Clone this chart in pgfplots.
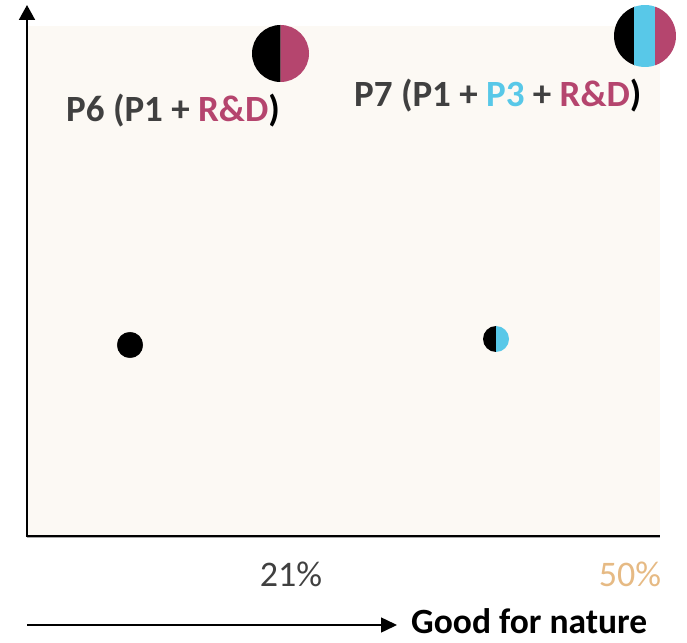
\documentclass[border=0pt]{standalone}
\usepackage{fontspec}
\setmainfont{Carlito}
\usepackage{pgfplots}
\pgfplotsset{compat=1.18}
\usetikzlibrary{arrows.meta}
\definecolor{bgbeige}{RGB}{252,249,244}
\definecolor{mag}{RGB}{181,69,110}
\definecolor{cyn}{RGB}{88,200,232}
\definecolor{dgray}{RGB}{64,64,64}
\definecolor{tan}{RGB}{230,186,132}

\pgfdeclareplotmark{halfbc}{%
  \pgfpathmoveto{\pgfqpoint{0pt}{\pgfplotmarksize}}%
  \pgfpatharc{90}{270}{\pgfplotmarksize}%
  \pgfpathclose
  \pgfsetfillcolor{black}\pgfusepath{fill}%
  \pgfpathmoveto{\pgfqpoint{0pt}{-\pgfplotmarksize}}%
  \pgfpatharc{-90}{90}{\pgfplotmarksize}%
  \pgfpathclose
  \pgfsetfillcolor{cyn}\pgfusepath{fill}%
}
\pgfdeclareplotmark{halfbm}{%
  \pgfpathmoveto{\pgfqpoint{0pt}{\pgfplotmarksize}}%
  \pgfpatharc{90}{270}{\pgfplotmarksize}%
  \pgfpathclose
  \pgfsetfillcolor{black}\pgfusepath{fill}%
  \pgfpathmoveto{\pgfqpoint{0pt}{-\pgfplotmarksize}}%
  \pgfpatharc{-90}{90}{\pgfplotmarksize}%
  \pgfpathclose
  \pgfsetfillcolor{mag}\pgfusepath{fill}%
}
\pgfdeclareplotmark{thirds}{%
  \pgfpathcircle{\pgfpointorigin}{\pgfplotmarksize}%
  \pgfusepath{clip}%
  \pgfpathrectanglecorners{\pgfqpoint{-\pgfplotmarksize}{-\pgfplotmarksize}}{\pgfqpoint{-0.333\pgfplotmarksize}{\pgfplotmarksize}}%
  \pgfsetfillcolor{black}\pgfusepath{fill}%
  \pgfpathrectanglecorners{\pgfqpoint{-0.34\pgfplotmarksize}{-\pgfplotmarksize}}{\pgfqpoint{0.333\pgfplotmarksize}{\pgfplotmarksize}}%
  \pgfsetfillcolor{cyn}\pgfusepath{fill}%
  \pgfpathrectanglecorners{\pgfqpoint{0.333\pgfplotmarksize}{-\pgfplotmarksize}}{\pgfqpoint{\pgfplotmarksize}{\pgfplotmarksize}}%
  \pgfsetfillcolor{mag}\pgfusepath{fill}%
}

\begin{document}
\begin{tikzpicture}
\begin{axis}[
  scale only axis,
  width=633pt, height=510pt,
  xmin=27, xmax=660, ymin=106, ymax=616,
  axis line style={draw=none},
  axis background/.style={fill=bgbeige},
  clip=false,
  ytick=\empty,
  xtick={291,630},
  xticklabels={21\%, \textcolor{tan}{50\%}},
  major tick length=0pt,
  xticklabel style={font=\fontsize{36}{40}\selectfont, text=dgray, yshift=-22pt},
]
\coordinate (bl) at (axis cs:0,0);
\coordinate (tr) at (axis cs:687,642);
% axes
\draw[line width=2pt,-{Triangle[width=16pt,length=15pt]}] (axis cs:27,105) -- (axis cs:27,637);
\draw[gray!70,line width=1pt] (axis cs:27,104.5) -- (axis cs:660,104.5);
\draw[line width=1.3pt] (axis cs:26,106) -- (axis cs:660,106);
% bottom arrow
\draw[line width=1.5pt,-{Triangle[width=15pt,length=16pt]}] (axis cs:27,17) -- (axis cs:397,17);
\node[anchor=west,inner sep=0pt,font=\fontsize{35.5}{40}\selectfont\bfseries] at (axis cs:411,21) {Good for nature};
% points
\addplot[only marks, mark=*, mark size=12.8pt, black] coordinates {(130,297)};
\addplot[only marks, mark=halfbc, mark size=13pt] coordinates {(496,303)};
\addplot[only marks, mark=halfbm, mark size=28.5pt] coordinates {(280.5,588.5)};
\addplot[only marks, mark=thirds, mark size=31pt] coordinates {(645,606)};
% labels
\node[anchor=west,inner sep=0pt,font=\fontsize{37}{40}\selectfont\bfseries,text=dgray] at (axis cs:66,531) {P6 (P1 + \textcolor{mag}{R\&D}\textcolor{black}{)}};
\node[anchor=west,inner sep=0pt,font=\fontsize{37}{40}\selectfont\bfseries,text=dgray] at (axis cs:354,546) {P7 (P1 + \textcolor{cyn}{P3} + \textcolor{mag}{R\&D}\textcolor{black}{)}};
\end{axis}
\pgfresetboundingbox
\path (bl) rectangle (tr);
\end{tikzpicture}
\end{document}
